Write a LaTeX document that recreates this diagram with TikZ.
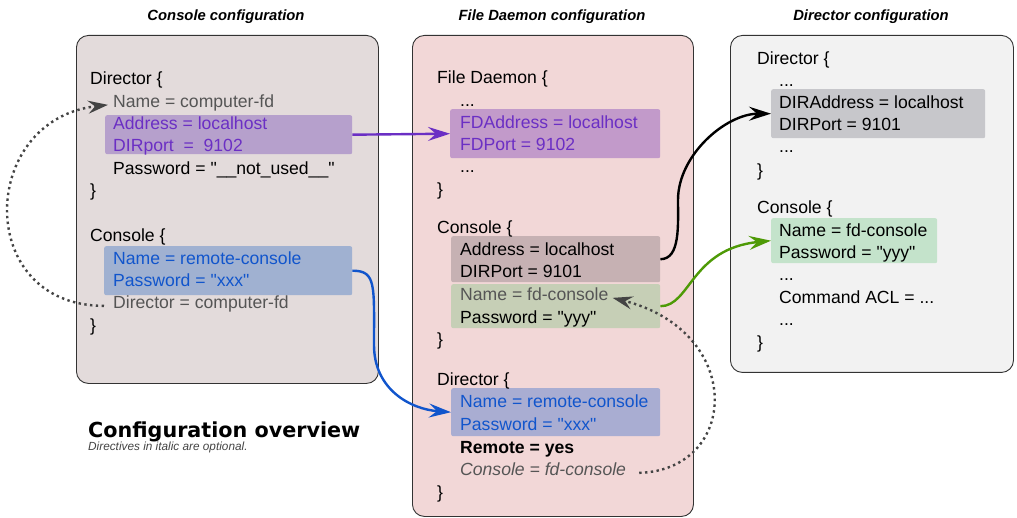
\documentclass[tikz,border=0pt]{standalone}
\usepackage{fontspec}
\setmainfont{Liberation Sans}
\newfontfamily\cfgfont{Liberation Sans}
\newfontfamily\headfont{DejaVu Sans}
\usetikzlibrary{arrows.meta}

\definecolor{conbg}{HTML}{E3DBDB}
\definecolor{fdbg}{HTML}{F2D7D7}
\definecolor{dirbg}{HTML}{F2F2F2}
\definecolor{frame}{HTML}{333333}
\definecolor{purpbox}{HTML}{B6A0CC}
\definecolor{purpboxfd}{HTML}{C29ACA}
\definecolor{purptext}{HTML}{6B2FC4}
\definecolor{bluebox}{HTML}{A0B1D1}
\definecolor{blueboxfd}{HTML}{A9ADD2}
\definecolor{bluetext}{HTML}{1155CC}
\definecolor{addrbox}{HTML}{C6B1B3}
\definecolor{namebox}{HTML}{C6CFB6}
\definecolor{diraddrbox}{HTML}{C7C7CB}
\definecolor{dirnamebox}{HTML}{C4E3CB}
\definecolor{dimtext}{HTML}{555555}
\definecolor{dotgray}{HTML}{444444}
\definecolor{greenline}{HTML}{4E9A06}

\begin{document}
\begin{tikzpicture}[x=1pt,y=-1pt,
    panel/.style={draw=frame,line width=0.9pt,rounded corners=12pt,anchor=north west,inner sep=0pt},
    hl/.style={anchor=north west,inner sep=0pt,rounded corners=2pt},
    txt/.style={anchor=base west,inner sep=0pt,font=\cfgfont\fontsize{17.6}{22}\selectfont},
    dim/.style={txt,text=dimtext},
    head/.style={anchor=base,inner sep=0pt,font=\fontsize{14.8}{18}\selectfont\bfseries\itshape},
    link/.style={line width=2.4pt,-{Stealth[length=22pt,width=14pt,inset=8pt]}},
    optlink/.style={draw=dotgray,line width=2.4pt,dash pattern=on 2.4pt off 3.4pt,-{Stealth[length=20pt,width=13pt,inset=7pt]}}]
  \useasboundingbox (0,0) rectangle (1017,518);

  % the three files
  \node[head] (conhead) at (226,20.5) {Console configuration};
  \node[head] (fdhead) at (552,20.5) {File Daemon configuration};
  \node[head] (dirhead) at (871,20.5) {Director configuration};
  \node[panel,fill=conbg,minimum width=302,minimum height=348] (conpanel) at (76,35) {};
  \node[panel,fill=fdbg,minimum width=281,minimum height=481] (fdpanel) at (412,35) {};
  \node[panel,fill=dirbg,minimum width=283,minimum height=337] (dirpanel) at (730,35) {};

  % highlighted directives
  \node[hl,fill=purpbox,minimum width=247,minimum height=39] (cpurple) at (105,115) {};
  \node[hl,fill=bluebox,minimum width=248,minimum height=49] (cblue) at (104,246) {};
  \node[hl,fill=purpboxfd,minimum width=210,minimum height=49] (fpurple) at (450,109) {};
  \node[hl,fill=addrbox,minimum width=209,minimum height=46] (fgray) at (451,236) {};
  \node[hl,fill=namebox,minimum width=209,minimum height=44] (fgreen) at (451,284) {};
  \node[hl,fill=blueboxfd,minimum width=209,minimum height=48] (fblue) at (451,388) {};
  \node[hl,fill=diraddrbox,minimum width=214,minimum height=49] (dgray) at (771,89) {};
  \node[hl,fill=dirnamebox,minimum width=166,minimum height=45] (dgreen) at (771,218) {};

  % console configuration
  \node[txt] (cdirhead) at (90,84.5) {Director \{};
  \node[dim] (cname) at (113,107.5) {Name = computer-fd};
  \node[txt,text=purptext] (caddr) at (113,129.5) {Address = localhost};
  \node[txt,text=purptext] (cport) at (113,151.5) {DIRport\ \ =\ \ 9102};
  \node[txt] (cpass) at (113,174.5) {Password = "\_\_not\_used\_\_"};
  \node[txt] (cclosea) at (90,196.5) {\}};
  \node[txt] (cconhead) at (90,241.5) {Console \{};
  \node[txt,text=bluetext] (cconname) at (113,264.5) {Name = remote-console};
  \node[txt,text=bluetext] (cconpass) at (113,286.5) {Password = "xxx"};
  \node[dim] (cdir) at (113,308.5) {Director = computer-fd};
  \node[txt] (ccloseb) at (90,331.5) {\}};

  % file daemon configuration
  \node[txt] (ffdhead) at (437,83.5) {File Daemon \{};
  \node[txt] (fdotsa) at (460,106.5) {...};
  \node[txt,text=purptext] (faddr) at (460,128.5) {FDAddress = localhost};
  \node[txt,text=purptext] (fport) at (460,150.5) {FDPort = 9102};
  \node[txt] (fdotsb) at (460,172.5) {...};
  \node[txt] (fclosea) at (437,195.5) {\}};
  \node[txt] (fconhead) at (437,233.5) {Console \{};
  \node[txt] (fconaddr) at (460,255.5) {Address = localhost};
  \node[txt] (fconport) at (460,277.5) {DIRPort = 9101};
  \node[dim] (fname) at (460,300.5) {Name = fd-console};
  \node[txt] (fpass) at (460,323.5) {Password = "yyy"};
  \node[txt] (fcloseb) at (437,345.5) {\}};
  \node[txt] (fdirhead) at (437,385.5) {Director \{};
  \node[txt,text=bluetext] (fdirname) at (460,407.5) {Name = remote-console};
  \node[txt,text=bluetext] (fdirpass) at (460,430.5) {Password = "xxx"};
  \node[txt,font=\cfgfont\fontsize{17.6}{22}\selectfont\bfseries] (fremote) at (460,453.5) {Remote = yes};
  \node[dim,font=\cfgfont\fontsize{17.6}{22}\selectfont\itshape] (fdcon) at (460,475.5) {Console = fd-console};
  \node[txt] (fclosec) at (437,498.5) {\}};

  % director configuration
  \node[txt] (ddirhead) at (757,64.5) {Director \{};
  \node[txt] (ddotsa) at (779,86.5) {...};
  \node[txt] (daddr) at (779,108.5) {DIRAddress = localhost};
  \node[txt] (dport) at (779,130.5) {DIRPort = 9101};
  \node[txt] (ddotsb) at (779,152.5) {...};
  \node[txt] (dclosea) at (757,176.5) {\}};
  \node[txt] (dconhead) at (757,213.5) {Console \{};
  \node[txt] (dname) at (779,236.5) {Name = fd-console};
  \node[txt] (dpass) at (779,258.5) {Password = "yyy"};
  \node[txt] (ddotsc) at (779,280.5) {...};
  \node[txt] (dacl) at (779,303.5) {Command ACL = ...};
  \node[txt] (ddotsd) at (779,325.5) {...};
  \node[txt] (dcloseb) at (757,348.5) {\}};

  % caption
  \node[anchor=base west,inner sep=0pt,font=\headfont\bfseries\fontsize{20.7}{24}\selectfont] (overview) at (88,437) {Configuration overview};
  \node[anchor=base west,inner sep=0pt,text=dotgray,font=\fontsize{11.8}{14}\selectfont\itshape] (optional) at (88,450.5) {Directives in italic are optional.};

  % links between the files
  \coordinate (bluebend) at (374,345);
  \coordinate (blackbend) at (678,200);
  \draw[link,purptext] (cpurple.east) -- (fpurple.west);
  \draw[link,bluetext] (cblue.east) .. controls +(24,0) and +(0,-60) .. (bluebend) .. controls +(0,45) and +(-40,-3) .. (fblue.west);
  \draw[link,black] (fgray.east) .. controls +(20,0) and +(0,25) .. (blackbend) .. controls +(0,-45) and +(-45,0) .. (dgray.west);
  \draw[link,greenline] (fgreen.east) .. controls +(30,0) and +(-80,8) .. (dgreen.west);
  \draw[optlink] ([xshift=-9pt]cdir.mid west) .. controls +(-130,0) and +(-130,15) .. ([xshift=-5pt]cname.mid west);
  \draw[optlink] ([xshift=13pt]fdcon.mid east) .. controls +(100,-3) and +(133,34) .. ([xshift=4pt]fname.mid east);
\end{tikzpicture}
\end{document}
